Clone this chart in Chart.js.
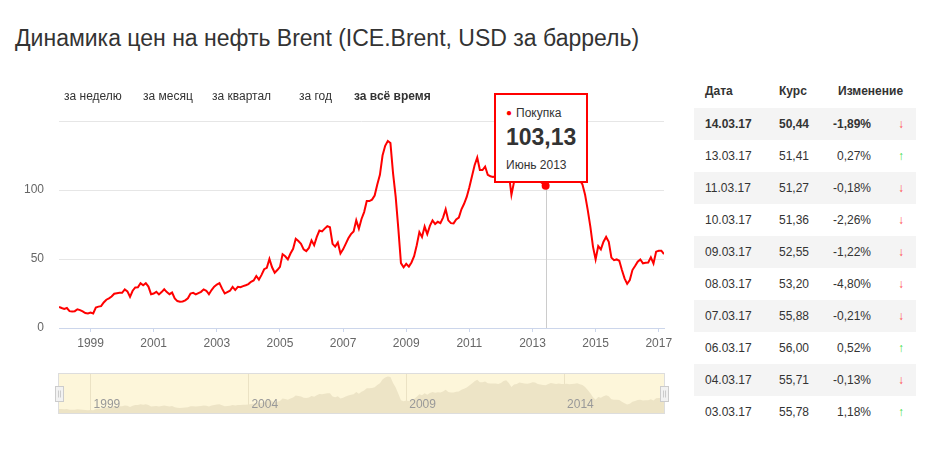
<!DOCTYPE html>
<html lang="ru">
<head>
<meta charset="utf-8">
<title>Brent</title>
<script src="https://cdn.jsdelivr.net/npm/chart.js@4.4.1/dist/chart.umd.min.js"></script>
<style>
  body { margin: 0; background: #fff; font-family: "Liberation Sans", Arial, sans-serif; color: #333; }
  #page { position: relative; width: 930px; height: 450px; overflow: hidden; }
  h1 { position: absolute; left: 15px; top: 24px; margin: 0; font-size: 23px; font-weight: normal; line-height: 28px; color: #333; white-space: nowrap; }
  canvas { position: absolute; left: 0; }
  #mainChart { top: 0; }
  #navChart { top: 365px; }
  .range { position: absolute; top: 89px; font-size: 12px; line-height: 15px; color: #333; z-index: 2; white-space: nowrap; }
  .range.active { font-weight: bold; }
  #tip { position: absolute; box-sizing: border-box; width: 94px; height: 90px; border: 2px solid #ff0000; background: #fff; z-index: 3; }
  #tip div { position: absolute; left: 10px; white-space: nowrap; }
  #tipName { top: 11px; font-size: 12px; line-height: 15px; }
  #tipName span { color: #ff0000; font-size: 10px; margin-right: 4px; position: relative; top: -1px; }
  #tipValue { top: 28px; font-size: 23px; font-weight: bold; line-height: 28px; }
  #tipDate { top: 63px; font-size: 12px; line-height: 15px; }
  #rates { position: absolute; left: 694px; top: 74px; width: 222px; border-collapse: collapse; table-layout: fixed; font-size: 12px; color: #333; }
  #rates th { height: 34px; padding: 0; text-align: left; font-weight: bold; }
  #rates td { height: 32px; padding: 0; }
  #rates tr.odd td { background: #f4f4f4; }
  #rates tr.first td { font-weight: bold; }
  .c1 { padding-left: 11px !important; }
  .c3 { text-align: right; }
  .c4 { text-align: right; padding-right: 12px !important; }
  .down { color: #ff4d4d; }
  .up { color: #44dd44; }
</style>
</head>
<body>
<div id="page">
  <h1>Динамика цен на нефть Brent (ICE.Brent, USD за баррель)</h1>
  <canvas id="mainChart" width="680" height="360"></canvas>
  <canvas id="navChart" width="680" height="55"></canvas>
  <span class="range" style="left:64px">за неделю</span>
  <span class="range" style="left:143px">за месяц</span>
  <span class="range" style="left:212px">за квартал</span>
  <span class="range" style="left:299px">за год</span>
  <span class="range active" style="left:354px">за всё время</span>
  <div id="tip">
    <div id="tipName"><span>●</span>Покупка</div>
    <div id="tipValue"></div>
    <div id="tipDate"></div>
  </div>
  <table id="rates"></table>
</div>
<script>
// Помесячные цены Brent, с января 1998 по март 2017
const startYear = 1998;
const brentMonthly = [
  15.3, 14.5, 13.8, 14.5, 12.2, 12.0, 12.2, 13.6, 13.0, 12.0, 10.8, 10.5,
  11.2, 10.5, 14.8, 15.5, 15.8, 18.5, 20.5, 21.5, 22.8, 24.8, 25.2, 25.5,
  25.5, 27.9, 26.5, 22.6, 27.0, 29.4, 29.5, 32.5, 31.0, 32.5, 30.0, 24.5,
  25.0, 26.2, 24.3, 26.0, 28.1, 26.0, 24.5, 25.7, 21.4, 19.5, 19.0, 19.2,
  20.0, 21.5, 25.0, 25.5, 24.3, 25.3, 26.2, 28.0, 27.0, 24.5, 27.5, 29.9,
  31.5, 32.5, 28.5, 25.0, 26.0, 27.0, 29.8, 27.5, 29.8, 29.5, 30.3, 31.0,
  31.8, 33.5, 34.5, 37.7, 35.0, 38.5, 42.6, 43.6, 50.0, 44.0, 40.0, 42.0,
  44.3, 53.5, 52.0, 49.7, 54.0, 57.4, 64.7, 63.0, 61.0, 57.0, 55.7, 58.0,
  63.5, 60.0, 66.0, 70.6, 70.0, 72.0, 73.8, 73.0, 61.0, 59.0, 62.0, 54.0,
  57.0, 61.0, 65.0, 68.0, 70.0, 78.0, 72.0, 79.0, 84.0, 92.0, 92.0, 93.0,
  96.0, 104.0, 111.0, 125.0, 132.0, 135.5, 134.0, 112.0, 95.0, 72.0, 47.0, 44.0,
  46.5, 44.5, 47.5, 52.0, 60.0, 69.5, 66.0, 73.5, 68.0, 74.0, 78.0, 75.3,
  77.0, 76.0, 80.0, 86.0, 78.0, 76.0, 75.8, 78.7, 80.0, 86.0, 90.0, 95.0,
  102.0, 110.0, 118.0, 123.5, 114.5, 114.5, 117.0, 111.0, 110.0, 109.5, 110.0, 108.0,
  112.0, 119.0, 122.0, 112.0, 96.5, 106.0, 108.0, 113.0, 112.0, 110.0, 109.0, 111.0,
  114.0, 113.0, 108.0, 106.0, 104.5, 103.13, 108.0, 112.0, 110.0, 108.0, 110.0, 108.0,
  108.0, 109.0, 107.0, 108.0, 109.0, 111.0, 107.0, 104.0, 96.5, 85.6, 73.5, 59.0,
  49.7, 59.4, 57.0, 62.5, 66.0, 62.5, 51.0, 49.2, 49.7, 48.7, 42.0, 36.0,
  32.0, 34.7, 42.0, 44.9, 48.0, 49.7, 46.8, 47.3, 47.5, 51.2, 46.8, 55.3,
  56.0, 56.0, 53.6
];
const xTickYears = [1999, 2001, 2003, 2005, 2007, 2009, 2011, 2013, 2015, 2017];
const yTickValues = [0, 50, 100, 150];
const yTickLabels = ["0", "50", "100", ""];
const navYears = [1999, 2004, 2009, 2014];

// Подсказка: июнь 2013
const tipIndex = 185;
const tipDate = "Июнь 2013";

// Таблица справа
const tableDates = ["14.03.17", "13.03.17", "11.03.17", "10.03.17", "09.03.17", "08.03.17", "07.03.17", "06.03.17", "04.03.17", "03.03.17"];
const tableRates = [50.44, 51.41, 51.27, 51.36, 52.55, 53.20, 55.88, 56.00, 55.71, 55.78];
const tableChanges = [-1.89, 0.27, -0.18, -2.26, -1.22, -4.80, -0.21, 0.52, -0.13, 1.18];

const fmt = v => v.toFixed(2).replace(".", ",");

const points = brentMonthly.map((v, i) => ({ x: startYear + i / 12, y: v }));
const xMax = startYear + (brentMonthly.length - 1) / 12;

Chart.defaults.font.family = '"Liberation Sans", Arial, sans-serif';
Chart.defaults.font.size = 12;

// Таблица
let html = '<colgroup><col style="width:85px"><col style="width:50px"><col style="width:42px"><col style="width:45px"></colgroup>';
html += '<tr><th class="c1">Дата</th><th>Курс</th><th colspan="2" style="padding-left:9px">Изменение</th></tr>';
tableDates.forEach((d, i) => {
  const ch = tableChanges[i];
  let cls = i % 2 === 0 ? "odd" : "";
  if (i === 0) cls += " first";
  html += '<tr class="' + cls + '"><td class="c1">' + d + '</td><td>' + fmt(tableRates[i]) +
    '</td><td class="c3">' + fmt(ch) + '%</td><td class="c4 ' + (ch < 0 ? "down" : "up") + '">' +
    (ch < 0 ? "↓" : "↑") + '</td></tr>';
});
document.getElementById("rates").innerHTML = html;

document.getElementById("tipValue").textContent = fmt(brentMonthly[tipIndex]);
document.getElementById("tipDate").textContent = tipDate;

// Перекрестие и позиция подсказки
const crosshair = {
  id: "crosshair",
  beforeDatasetsDraw(chart) {
    const { ctx, chartArea, scales } = chart;
    const px = Math.round(scales.x.getPixelForValue(points[tipIndex].x)) + 0.5;
    ctx.save();
    ctx.strokeStyle = "#cccccc";
    ctx.lineWidth = 1;
    ctx.beginPath();
    ctx.moveTo(px, chartArea.top);
    ctx.lineTo(px, chartArea.bottom);
    ctx.stroke();
    ctx.restore();
  },
  afterDraw(chart) {
    const px = chart.scales.x.getPixelForValue(points[tipIndex].x);
    const py = chart.scales.y.getPixelForValue(points[tipIndex].y);
    const tip = document.getElementById("tip");
    tip.style.left = Math.round(px - 52) + "px";
    tip.style.top = Math.round(py - 93) + "px";
  }
};

const mainChart = new Chart(document.getElementById("mainChart"), {
  type: "line",
  data: {
    datasets: [{
      data: points,
      borderColor: "#ff0000",
      borderWidth: 2,
      tension: 0,
      fill: false,
      pointRadius: c => (c.dataIndex === tipIndex ? 4 : 0),
      pointBackgroundColor: "#ff0000",
      pointBorderWidth: 0
    }]
  },
  options: {
    responsive: false,
    animation: false,
    events: [],
    layout: { padding: { top: 121, right: 16, left: 0, bottom: 0 } },
    plugins: { legend: { display: false }, tooltip: { enabled: false } },
    scales: {
      x: {
        type: "linear",
        min: startYear,
        max: xMax,
        afterBuildTicks: s => { s.ticks = xTickYears.map(v => ({ value: v })); },
        afterFit: s => { s.height = 32; },
        grid: { drawOnChartArea: false, drawTicks: true, tickLength: 4, tickColor: "#ccd6eb" },
        border: { color: "#ccd6eb" },
        ticks: { color: "#666", padding: 4, maxRotation: 0, autoSkip: false, callback: v => String(v) }
      },
      y: {
        min: 0,
        max: 150,
        afterBuildTicks: s => { s.ticks = yTickValues.map(v => ({ value: v })); },
        afterFit: s => { s.width = 59; },
        grid: { color: c => (c.tick && c.tick.value === 0 ? "rgba(0,0,0,0)" : "#e6e6e6"), drawTicks: false },
        border: { display: false },
        ticks: { color: "#666", padding: 15, callback: v => yTickLabels[yTickValues.indexOf(v)] }
      }
    }
  },
  plugins: [crosshair]
});

// Навигатор
const navigatorDecor = {
  id: "navigatorDecor",
  beforeDraw(chart) {
    const { ctx, chartArea: a } = chart;
    ctx.save();
    ctx.fillStyle = "#fdf6da";
    ctx.fillRect(a.left, a.top, a.right - a.left, a.bottom - a.top);
    ctx.restore();
  },
  afterDraw(chart) {
    const { ctx, chartArea: a, scales } = chart;
    ctx.save();
    ctx.strokeStyle = "#dddddd";
    ctx.lineWidth = 1;
    ctx.strokeRect(a.left - 0.5, a.top - 0.5, a.right - a.left + 1, a.bottom - a.top + 1);
    ctx.fillStyle = "#999999";
    ctx.font = '12px "Liberation Sans", Arial, sans-serif';
    ctx.textBaseline = "middle";
    navYears.forEach(y => {
      ctx.fillText(String(y), scales.x.getPixelForValue(y) + 3, a.bottom - 8);
    });
    [a.left - 0.5, a.right].forEach(cx => {
      const x0 = Math.round(cx - 4) + 0.5;
      const y0 = Math.round((a.top + a.bottom) / 2 - 8) + 0.5;
      ctx.fillStyle = "#f2f2f2";
      ctx.strokeStyle = "#cccccc";
      ctx.fillRect(x0, y0, 8, 15);
      ctx.strokeRect(x0, y0, 8, 15);
      ctx.beginPath();
      ctx.moveTo(x0 + 3, y0 + 4); ctx.lineTo(x0 + 3, y0 + 11);
      ctx.moveTo(x0 + 5, y0 + 4); ctx.lineTo(x0 + 5, y0 + 11);
      ctx.stroke();
    });
    ctx.restore();
  }
};

const navChart = new Chart(document.getElementById("navChart"), {
  type: "line",
  data: {
    datasets: [{
      data: points,
      borderWidth: 0,
      borderColor: "rgba(0,0,0,0)",
      backgroundColor: "#ede4c6",
      fill: "origin",
      pointRadius: 0,
      tension: 0
    }]
  },
  options: {
    responsive: false,
    animation: false,
    events: [],
    layout: { padding: { top: 9, right: 16, left: 59, bottom: 7 } },
    plugins: { legend: { display: false }, tooltip: { enabled: false } },
    scales: {
      x: {
        type: "linear",
        min: startYear,
        max: xMax,
        afterBuildTicks: s => { s.ticks = navYears.map(v => ({ value: v })); },
        afterFit: s => { s.height = 0; },
        grid: { color: "#ebe2c4", drawTicks: false },
        border: { display: false },
        ticks: { display: false }
      },
      y: { display: false, min: 0, max: 145 }
    }
  },
  plugins: [navigatorDecor]
});
</script>
</body>
</html>
